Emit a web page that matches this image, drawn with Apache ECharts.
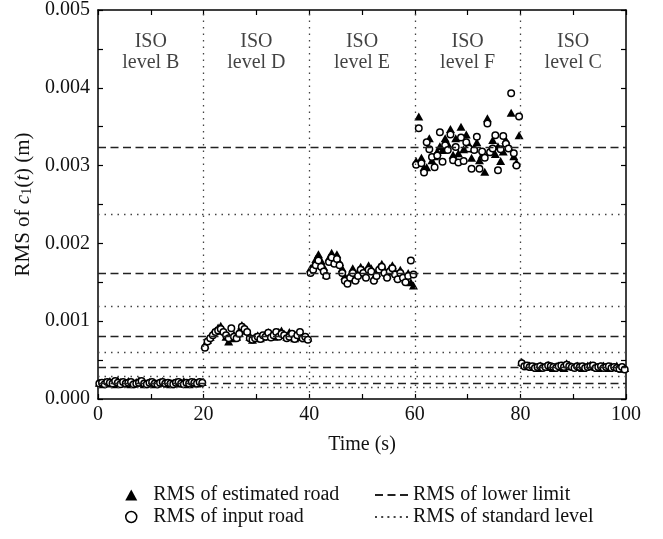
<!DOCTYPE html>
<html><head><meta charset="utf-8">
<script src="https://cdn.jsdelivr.net/npm/echarts@6/dist/echarts.min.js"></script>
<style>html,body{margin:0;padding:0;background:#fff}#c{width:663px;height:539px}</style>
</head><body><div id="c"></div>
<script>
// ---- data ----
const segmentStarts = [0, 20, 40, 60, 80];
const levelCenters = [10, 30, 50, 70, 90];
const levelLabels = ['ISO\nlevel B', 'ISO\nlevel D', 'ISO\nlevel E', 'ISO\nlevel F', 'ISO\nlevel C'];
const sampleStep = 0.5, sampleOffset = 0.25;

const estB = [0.00021,0.00019,0.00022,0.00020,0.00023,0.00021,0.00019,0.00024,0.00022,0.00020,
  0.00021,0.00023,0.00019,0.00020,0.00022,0.00024,0.00021,0.00019,0.00020,0.00022,
  0.00021,0.00019,0.00020,0.00022,0.00023,0.00021,0.00020,0.00019,0.00021,0.00022,
  0.00020,0.00021,0.00023,0.00020,0.00019,0.00021,0.00022,0.00020,0.00021,0.00022];
const inpB = [0.00020,0.00021,0.00019,0.00022,0.00021,0.00020,0.00023,0.00021,0.00019,0.00022,
  0.00020,0.00021,0.00022,0.00019,0.00020,0.00021,0.00023,0.00020,0.00019,0.00021,
  0.00022,0.00020,0.00019,0.00021,0.00022,0.00020,0.00021,0.00020,0.00019,0.00021,
  0.00022,0.00020,0.00019,0.00021,0.00020,0.00022,0.00021,0.00020,0.00022,0.00021];
const estD = [0.00070,0.00076,0.00080,0.00085,0.00088,0.00092,0.00094,0.00088,0.00080,0.00074,
  0.00078,0.00083,0.00080,0.00088,0.00095,0.00092,0.00088,0.00080,0.00076,0.00080,
  0.00082,0.00078,0.00080,0.00084,0.00086,0.00082,0.00080,0.00084,0.00086,0.00088,
  0.00084,0.00080,0.00086,0.00082,0.00078,0.00080,0.00082,0.00080,0.00078,0.00079];
const inpD = [0.00066,0.00074,0.00078,0.00082,0.00086,0.00088,0.00090,0.00086,0.00082,0.00078,
  0.00091,0.00080,0.00078,0.00084,0.00093,0.00090,0.00086,0.00078,0.00076,0.00078,
  0.00080,0.00077,0.00082,0.00080,0.00085,0.00079,0.00082,0.00086,0.00080,0.00084,
  0.00082,0.00078,0.00080,0.00084,0.00077,0.00082,0.00086,0.00078,0.00080,0.00076];
const estE = [0.00168,0.00172,0.00180,0.00186,0.00178,0.00170,0.00160,0.00182,0.00188,0.00180,
  0.00186,0.00176,0.00168,0.00158,0.00154,0.00160,0.00168,0.00156,0.00162,0.00170,
  0.00166,0.00160,0.00172,0.00168,0.00156,0.00162,0.00170,0.00174,0.00166,0.00160,
  0.00168,0.00172,0.00164,0.00158,0.00166,0.00160,0.00154,0.00162,0.00150,0.00146];
const inpE = [0.00162,0.00166,0.00172,0.00178,0.00170,0.00164,0.00158,0.00176,0.00182,0.00174,
  0.00180,0.00172,0.00162,0.00152,0.00148,0.00156,0.00162,0.00152,0.00158,0.00166,
  0.00162,0.00156,0.00166,0.00164,0.00152,0.00158,0.00166,0.00170,0.00162,0.00156,
  0.00164,0.00168,0.00160,0.00154,0.00162,0.00156,0.00150,0.00158,0.00178,0.00160];
const estF = [0.00306,0.00363,0.00310,0.00298,0.00298,0.00335,0.00307,0.00312,0.00318,0.00325,
  0.00320,0.00335,0.00328,0.00347,0.00314,0.00335,0.00316,0.00350,0.00321,0.00340,
  0.00327,0.00310,0.00322,0.00330,0.00307,0.00314,0.00292,0.00361,0.00320,0.00333,
  0.00315,0.00325,0.00306,0.00318,0.00333,0.00325,0.00368,0.00312,0.00304,0.00339];
const inpF = [0.00301,0.00348,0.00303,0.00291,0.00330,0.00321,0.00311,0.00298,0.00313,0.00343,
  0.00305,0.00326,0.00320,0.00340,0.00307,0.00324,0.00304,0.00336,0.00306,0.00330,
  0.00322,0.00296,0.00320,0.00337,0.00296,0.00318,0.00310,0.00354,0.00317,0.00322,
  0.00339,0.00294,0.00321,0.00338,0.00328,0.00322,0.00393,0.00316,0.00300,0.00363];
const estC = [0.00048,0.00044,0.00042,0.00043,0.00041,0.00042,0.00040,0.00043,0.00041,0.00042,
  0.00044,0.00041,0.00040,0.00042,0.00043,0.00041,0.00040,0.00046,0.00044,0.00042,
  0.00041,0.00043,0.00042,0.00040,0.00041,0.00043,0.00044,0.00042,0.00041,0.00040,
  0.00042,0.00043,0.00041,0.00040,0.00042,0.00041,0.00043,0.00040,0.00039,0.00040];
const inpC = [0.00046,0.00042,0.00043,0.00041,0.00042,0.00040,0.00041,0.00042,0.00040,0.00041,
  0.00043,0.00042,0.00041,0.00040,0.00042,0.00043,0.00041,0.00044,0.00042,0.00041,
  0.00040,0.00042,0.00041,0.00042,0.00040,0.00041,0.00042,0.00043,0.00040,0.00041,
  0.00042,0.00040,0.00041,0.00042,0.00040,0.00041,0.00040,0.00039,0.00041,0.00038];

const lowerLimits = [0.000203, 0.000405, 0.00081, 0.00162, 0.00324];
const standardLevels = [0.000149, 0.000297, 0.000595, 0.00119, 0.00238];
const boundaries = [20, 40, 60, 80];
const xRange = [0, 100];
const yRange = [0, 0.005];
const labelLevelY = 0.00446;

// ---- build ----
const estSegs = [estB, estD, estE, estF, estC];
const inpSegs = [inpB, inpD, inpE, inpF, inpC];
function toPoints(segs) {
  const out = [];
  segs.forEach((vals, s) => vals.forEach((v, i) => out.push([segmentStarts[s] + sampleOffset + sampleStep * i, v])));
  return out;
}
const hLines = vals => vals.map(v => [{coord: [xRange[0], v]}, {coord: [xRange[1], v]}]);
const vLines = vals => vals.map(v => [{coord: [v, yRange[0]]}, {coord: [v, yRange[1]]}]);

const FONT = 'Liberation Serif';
const dashIcon = 'path://M0,0h8v2h-8zM12.5,0h8v2h-8zM25,0h8v2h-8z';
const dotIcon = 'path://M0,0h2v2h-2zM6.2,0h2v2h-2zM12.4,0h2v2h-2zM18.6,0h2v2h-2zM24.8,0h2v2h-2zM31,0h2v2h-2z';

const tickCommon = {show: true, inside: true, length: 5, lineStyle: {color: '#000', width: 1.2}};
const minorCommon = {show: true, splitNumber: 2, length: 5, lineStyle: {color: '#000', width: 1.2}};
const lineCommon = {show: true, onZero: false, lineStyle: {color: '#000', width: 1.5}};

const chart = echarts.init(document.getElementById('c'), null, {renderer: 'canvas'});
chart.setOption({
  animation: false,
  backgroundColor: '#fff',
  textStyle: {fontFamily: FONT, color: '#111'},
  grid: {left: 98, right: 37, top: 10, bottom: 140, containLabel: false},
  xAxis: [{
    type: 'value', min: xRange[0], max: xRange[1], interval: 20, position: 'bottom',
    name: 'Time (s)', nameLocation: 'middle', nameGap: 36,
    nameTextStyle: {fontFamily: FONT, fontSize: 20, color: '#111'},
    axisLine: lineCommon, axisTick: tickCommon, minorTick: minorCommon,
    splitLine: {show: false},
    axisLabel: {fontFamily: FONT, fontSize: 20, color: '#111', margin: 6}
  }, {
    type: 'value', min: xRange[0], max: xRange[1], interval: 20, position: 'top',
    axisLine: lineCommon, axisTick: tickCommon, minorTick: minorCommon,
    splitLine: {show: false}, axisLabel: {show: false}
  }],
  yAxis: [{
    type: 'value', min: yRange[0], max: yRange[1], interval: 0.001, position: 'left',
    name: 'RMS of {it|c}{sub|1}({it|t}) (m)', nameLocation: 'middle', nameGap: 51, nameRotate: 90,
    nameTextStyle: {fontFamily: FONT, fontSize: 21, color: '#111',
      rich: {it: {fontFamily: FONT, fontSize: 21, fontStyle: 'italic', color: '#111'},
             sub: {fontFamily: FONT, fontSize: 14, color: '#111', verticalAlign: 'bottom', padding: [6, 0, 0, 0]}}},
    axisLine: lineCommon, axisTick: tickCommon, minorTick: minorCommon,
    splitLine: {show: false},
    axisLabel: {fontFamily: FONT, fontSize: 20, color: '#111', margin: 8, formatter: v => v.toFixed(3)}
  }, {
    type: 'value', min: yRange[0], max: yRange[1], interval: 0.001, position: 'right',
    axisLine: lineCommon, axisTick: tickCommon, minorTick: minorCommon,
    splitLine: {show: false}, axisLabel: {show: false}
  }],
  legend: [{
    left: 120, top: 480, orient: 'vertical', itemGap: 2, itemWidth: 12, itemHeight: 11,
    textStyle: {fontFamily: FONT, fontSize: 20, color: '#111', padding: [0, 0, 0, 11], lineHeight: 20},
    selectedMode: false,
    data: [{name: 'RMS of estimated road', icon: 'triangle'}, {name: 'RMS of input road', icon: 'circle',
      itemStyle: {color: '#fff', borderColor: '#000', borderWidth: 1.5}}]
  }, {
    left: 370, top: 480, orient: 'vertical', itemGap: 2, itemWidth: 33, itemHeight: 2,
    textStyle: {fontFamily: FONT, fontSize: 20, color: '#111', lineHeight: 20},
    selectedMode: false,
    data: [{name: 'RMS of lower limit', icon: dashIcon}, {name: 'RMS of standard level', icon: dotIcon}]
  }],
  series: [{
    name: 'RMS of lower limit', type: 'line', data: [], color: '#222',
    itemStyle: {color: '#222'},
    markLine: {silent: true, symbol: 'none', label: {show: false},
      lineStyle: {color: '#222', type: [8, 4.5], width: 1.3},
      data: hLines(lowerLimits)}
  }, {
    name: 'RMS of standard level', type: 'line', data: [], color: '#444',
    itemStyle: {color: '#444'},
    markLine: {silent: true, symbol: 'none', label: {show: false},
      lineStyle: {color: '#444', type: [1.5, 5], width: 1.3},
      data: hLines(standardLevels).concat(vLines(boundaries))}
  }, {
    name: 'RMS of estimated road', type: 'scatter', symbol: 'triangle', symbolSize: [9, 8],
    itemStyle: {color: '#000', opacity: 1}, data: toPoints(estSegs), z: 3
  }, {
    name: 'RMS of input road', type: 'scatter', symbol: 'circle', symbolSize: 6.5,
    itemStyle: {color: '#fff', borderColor: '#000', borderWidth: 1.5, opacity: 1}, data: toPoints(inpSegs), z: 4
  }, {
    name: 'levels', type: 'scatter', symbolSize: 0, silent: true,
    data: levelCenters.map((x, i) => [x, labelLevelY, levelLabels[i]]),
    label: {show: true, position: 'inside', formatter: p => p.data[2], fontFamily: FONT, fontSize: 20,
      lineHeight: 21, color: '#111', align: 'center', verticalAlign: 'middle'}
  }]
});
</script></body></html>
